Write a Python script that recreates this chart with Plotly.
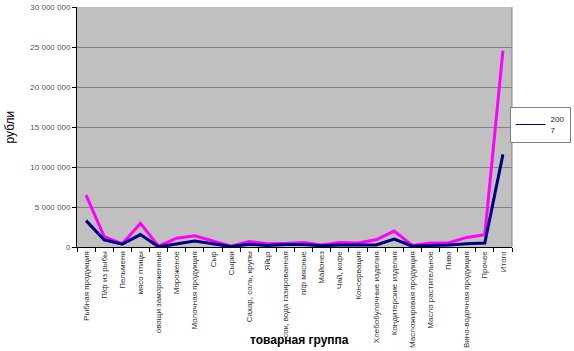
import plotly.graph_objects as go

categories = [
    "Рыбная продукция", "П/ф из рыбы", "Пельмени", "мясо птицы",
    "овощи замороженные", "Мороженое", "Молочная продукция", "Сыр",
    "Сырки", "Сахар, соль, крупы", "Яйцо", "сок, вода газированная",
    "п/ф мясные", "Майонез", "Чай, кофе", "Консервация",
    "Хлебобулочные изделия", "Кондитерские изделия", "Масложировая продукция",
    "Масло растительное", "Пиво", "Вино-водочная продукция", "Прочее", "Итого",
]

values_2007 = [3.3e6, 0.9e6, 0.35e6, 1.55e6, 0.02e6, 0.35e6, 0.75e6, 0.4e6,
               0.05e6, 0.35e6, 0.2e6, 0.3e6, 0.3e6, 0.15e6, 0.25e6, 0.25e6,
               0.25e6, 1.0e6, 0.1e6, 0.2e6, 0.25e6, 0.4e6, 0.5e6, 11.6e6]

values_total = [6.5e6, 1.3e6, 0.4e6, 2.95e6, 0.1e6, 1.1e6, 1.4e6, 0.75e6,
                0.1e6, 0.7e6, 0.4e6, 0.45e6, 0.55e6, 0.25e6, 0.55e6, 0.5e6,
                0.9e6, 2.0e6, 0.2e6, 0.5e6, 0.5e6, 1.2e6, 1.55e6, 24.6e6]

y_ticks = [0, 5e6, 10e6, 15e6, 20e6, 25e6, 30e6]

fig = go.Figure()
fig.add_trace(go.Scatter(x=categories, y=values_total, mode="lines",
                         line=dict(color="#ff00ff", width=3), name="Итого",
                         showlegend=False))
fig.add_trace(go.Scatter(x=categories, y=values_2007, mode="lines",
                         line=dict(color="#000080", width=3), name="2007",
                         showlegend=False))
# legend entry (thin sample line as in the reference)
fig.add_trace(go.Scatter(x=[None], y=[None], mode="lines",
                         line=dict(color="#000080", width=1), name="200<br>7"))

fig.update_layout(
    width=574, height=351,
    margin=dict(l=77, r=59, t=3, b=104),
    paper_bgcolor="white",
    plot_bgcolor="#c0c0c0",
    separators=", ",
    font=dict(family="Liberation Sans, Arial", size=8, color="#222"),
    showlegend=True,
    legend=dict(x=(574 - 77) / 438, y=0.51, xanchor="right", yanchor="middle",
                bgcolor="white", bordercolor="#808080", borderwidth=1,
                font=dict(size=8, color="#222"), itemwidth=30,
                tracegroupgap=0),
    xaxis=dict(
        type="category", tickangle=-90, showgrid=False,
        showline=True, linecolor="black", linewidth=1,
        ticks="outside", ticklen=4, tickcolor="black", tickson="boundaries",
        tickfont=dict(size=8, color="#333"),
        range=[-0.5, len(categories) - 0.5],
    ),
    yaxis=dict(
        range=[0, 30.05e6], tickvals=y_ticks, tickformat=",.0f",
        showgrid=True, gridcolor="#808080", gridwidth=1,
        showline=True, linecolor="black", linewidth=1,
        ticks="outside", ticklen=4, tickcolor="black",
        tickfont=dict(size=8, color="#555"), zeroline=False,
        ticklabeloverflow="allow",
    ),
    shapes=[dict(type="line", xref="paper", yref="paper", x0=1, x1=1, y0=0, y1=1,
                 line=dict(color="#808080", width=1))],
    annotations=[
        dict(text="<b>товарная группа</b>", xref="paper", yref="paper",
             x=(301 - 77) / 438, y=-(342 - 247) / 244, xanchor="center",
             yanchor="middle", showarrow=False,
             font=dict(size=12, color="black")),
        dict(text="рубли", xref="paper", yref="paper",
             x=-(77 - 10) / 438, y=(247 - 125) / 244, xanchor="center",
             yanchor="middle", textangle=-90, showarrow=False,
             font=dict(size=12, color="black")),
    ],
)

fig.write_html("out.html")
